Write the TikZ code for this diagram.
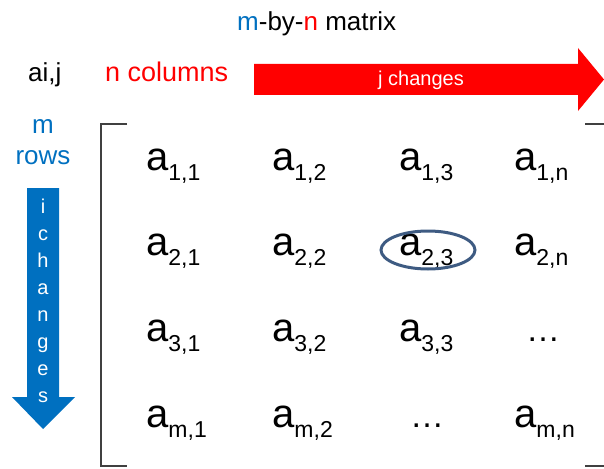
\documentclass[tikz,border=0pt]{standalone}
\usepackage{fontspec}
\setmainfont{Liberation Sans}
\usepackage{tikz}
\definecolor{mblue}{HTML}{0070C0}
\definecolor{nred}{HTML}{FF0000}
\definecolor{ringblue}{HTML}{3E5B82}
\newcommand{\ent}[1]{{\fontsize{40}{42}\selectfont a}{\fontsize{23}{25}\selectfont\raisebox{-10pt}{#1}}}
\newcommand{\bigtxt}[1]{{\fontsize{26}{30}\selectfont #1}}

\begin{document}
\begin{tikzpicture}[x=1pt,y=-1pt,
    lbl/.style={inner sep=0pt,anchor=base west},
    elem/.style={inner sep=0pt,anchor=base west}]
  \useasboundingbox (0,0) rectangle (604,468);
  %
  \node[lbl] (title) at (237,31) {\bigtxt{\textcolor{mblue}{m}-by-\textcolor{nred}{n} matrix}};
  \node[lbl] (aij) at (28,82) {\bigtxt{ai,j}};
  \node[lbl,text=nred] (ncols) at (105,82) {\fontsize{27}{30}\selectfont n columns};
  \node[inner sep=0pt,anchor=base,text=mblue] (m) at (43,133) {\bigtxt{m}};
  \node[inner sep=0pt,anchor=base,text=mblue] (rows) at (43,164) {\bigtxt{rows}};
  %
  \fill[nred] (254,64) -- (578,64) -- (578,48) -- (604,79.5) -- (578,111)
    -- (578,95) -- (254,95) -- cycle;
  \node[text=white,inner sep=0pt] (jch) at (421,80)
    {\fontsize{20}{22}\selectfont j changes};
  %
  \fill[mblue] (27,188) -- (59,188) -- (59,397) -- (75,397) -- (43,429)
    -- (12,397) -- (27,397) -- cycle;
  \foreach \c [count=\k] in {i,c,h,a,n,g,e,s}{
    \node[text=white,inner sep=0pt,anchor=base] (ich\k) at (43,186+27*\k)
      {\fontsize{20}{22}\selectfont \c};
  }
  %
  \draw[line width=2pt,black!75] (127,124) -- (101,124) -- (101,466) -- (127,466);
  \draw[line width=2pt,black!75] (585,124) -- (606,124) -- (606,466) -- (585,466);
  %
  \foreach \r/\rn/\y in {1/1/170,2/2/255,3/3/341,4/m/427}{
    \node[elem] (a\r1) at (146,\y) {\ent{\rn,1}};
    \node[elem] (a\r2) at (272,\y) {\ent{\rn,2}};
  }
  \node[elem] (a13) at (399,170) {\ent{1,3}};
  \node[elem] (a23) at (399,255) {\ent{2,3}};
  \node[elem] (a33) at (399,341) {\ent{3,3}};
  \node[elem] (a43) at (410,427) {\fontsize{34}{36}\selectfont\dots};
  \node[elem] (a14) at (514,170) {\ent{1,n}};
  \node[elem] (a24) at (514,255) {\ent{2,n}};
  \node[elem] (a34) at (526,341) {\fontsize{34}{36}\selectfont\dots};
  \node[elem] (a44) at (514,427) {\ent{m,n}};
  %
  \draw[ringblue,line width=3pt] (428,250) ellipse (47 and 19);
\end{tikzpicture}
\end{document}
